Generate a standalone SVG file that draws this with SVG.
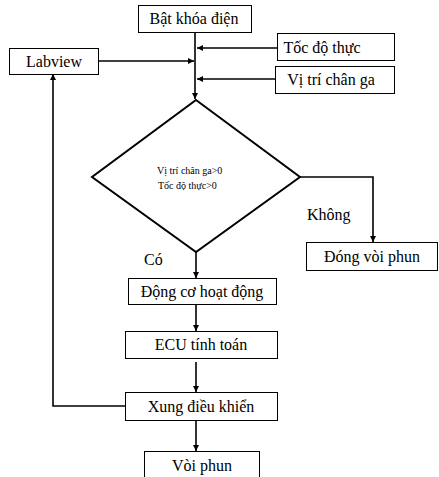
<svg xmlns="http://www.w3.org/2000/svg" width="439" height="477" viewBox="0 0 439 477">
<defs>
<marker id="ah" viewBox="0 0 10 10" refX="10" refY="5" markerWidth="6" markerHeight="6" markerUnits="userSpaceOnUse" orient="auto">
<path d="M0,0 L10,5 L0,10 z" fill="#000"/>
</marker>
<style>
.box{fill:#fff;stroke:#000;stroke-width:1}
text{font-family:'Liberation Serif','Times New Roman',serif}
.t{font-size:16px;fill:#000;text-anchor:middle}
.ts{font-size:10px;fill:#000}
.c{fill:none;stroke:#000;stroke-width:1.6}
</style>
</defs>
<rect width="439" height="477" fill="#fff"/>
<g id="connectors">
<path class="c" d="M195,33 V99" marker-end="url(#ah)"/>
<path class="c" d="M277,48 H197" marker-end="url(#ah)"/>
<path class="c" d="M275,79 H197" marker-end="url(#ah)"/>
<path class="c" d="M99,61 H194" marker-end="url(#ah)"/>
<path class="c" d="M300,177 H373 V242" marker-end="url(#ah)"/>
<path class="c" d="M196,252 V278" marker-end="url(#ah)"/>
<path class="c" d="M196,304 V331" marker-end="url(#ah)"/>
<path class="c" d="M196,362 V392" marker-end="url(#ah)"/>
<path class="c" d="M196,420 V451" marker-end="url(#ah)"/>
<path class="c" d="M125,406 H53 V74" marker-end="url(#ah)"/>
</g>
<g font-family="Liberation Serif, serif">
<g id="bat-khoa-dien"><rect class="box" x="138.5" y="5.5" width="113" height="27"/><text class="t" x="194" y="24">Bật khóa điện</text></g>
<g id="toc-do-thuc"><rect class="box" x="277.5" y="33.5" width="117" height="27"/><text class="t" x="322" y="53">Tốc độ thực</text></g>
<g id="vi-tri-chan-ga"><rect class="box" x="275.5" y="66.5" width="119" height="27"/><text class="t" x="331" y="85">Vị trí chân ga</text></g>
<g id="labview"><rect class="box" x="9.5" y="48.5" width="89" height="26"/><text class="t" x="54" y="67">Labview</text></g>
<g id="dieu-kien"><path d="M196,100 L300,177 L196,252 L92,177 Z" fill="#fff" stroke="#000" stroke-width="2"/><text class="ts" x="157" y="174">Vị trí chân ga&gt;0</text><text class="ts" x="158" y="189">Tốc độ thực&gt;0</text></g>
<g id="khong-label"><text class="t" x="307" y="220" style="text-anchor:start">Không</text></g>
<g id="co-label"><text class="t" x="144" y="265" style="text-anchor:start">Có</text></g>
<g id="dong-voi-phun"><rect class="box" x="306.5" y="242.5" width="131" height="28"/><text class="t" x="372" y="262">Đóng vòi phun</text></g>
<g id="dong-co"><rect class="box" x="128.5" y="278.5" width="148" height="26"/><text class="t" x="202" y="297">Động cơ hoạt động</text></g>
<g id="ecu"><rect class="box" x="125.5" y="331.5" width="152" height="27"/><text class="t" x="201" y="350">ECU tính toán</text></g>
<g id="xung"><rect class="box" x="125.5" y="392.5" width="152" height="28"/><text class="t" x="201" y="412">Xung điều khiển</text></g>
<g id="voi-phun"><rect class="box" x="144.5" y="451.5" width="115" height="30"/><text class="t" x="202" y="471">Vòi phun</text></g>
</g>
</svg>
